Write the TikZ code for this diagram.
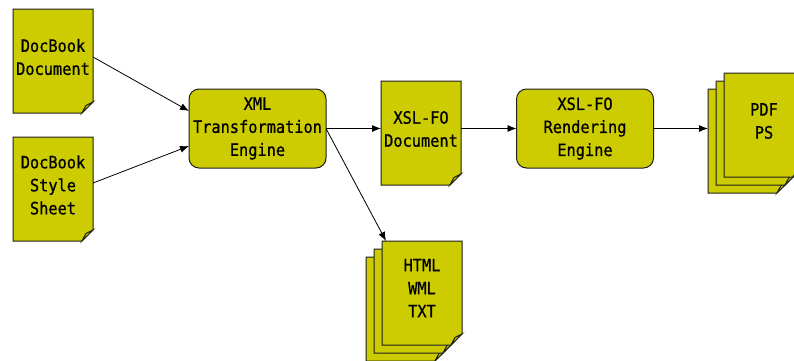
\documentclass[tikz,border=0pt]{standalone}
\usepackage{fontspec}
\newfontfamily\diagfont[FakeStretch=0.9,FakeBold=0.7]{DejaVu Sans Mono}
\usetikzlibrary{arrows.meta,calc}
\definecolor{docfill}{RGB}{204,204,0}
\definecolor{docline}{RGB}{30,30,30}
\tikzset{
  lbl/.style={font=\diagfont\fontsize{17}{23}\selectfont, align=center, inner sep=0pt, text=black},
  pagebox/.style={minimum width=80pt, minimum height=104pt, inner sep=0pt, draw=none, outer sep=0pt},
  pageline/.style={draw=docline, fill=docfill, line width=1pt, line join=miter},
  enginebox/.style={draw=docline, fill=docfill, rounded corners=10pt, line width=1pt,
    minimum width=137pt, minimum height=79pt, inner sep=0pt, outer sep=0pt, lbl},
  conn/.style={draw=black, line width=0.8pt, -{Latex[length=9pt,width=7pt]}},
}
% #1 name, #2 left x, #3 top y (y positive downwards, in px)
\newcommand\docpage[3]{%
  \node[pagebox, anchor=north west] (#1) at (#2pt,-#3pt) {};
  \draw[pageline] (#1.north west) -- (#1.north east) -- ($(#1.south east)+(0,11pt)$)
    -- ($(#1.south east)+(-11pt,0)$) -- (#1.south west) -- cycle;
  \draw[pageline] ($(#1.south east)+(0,11pt)$) -- ($(#1.south east)+(-11pt,0)$)
    -- ($(#1.south east)+(-7pt,7.5pt)$) -- cycle;
}
\begin{document}
\begin{tikzpicture}[x=1pt,y=1pt]
\clip (0,0) rectangle (794,-360);
\fill[white] (0,0) rectangle (794,-360);

% input documents
\docpage{dbdoc}{13}{9}
\node[lbl] (dbdocT) at ($(dbdoc.center)+(0,4pt)$) {DocBook\\Document};
\docpage{dbss}{13}{137}
\node[lbl] (dbssT) at ($(dbss.center)+(0,4pt)$) {DocBook\\Style\\Sheet};

% engines
\node[enginebox] (xml) at (257.5,-128.5) {XML\\Transformation\\Engine};
\node[enginebox] (render) at (585,-128.5) {XSL-FO\\Rendering\\Engine};

% XSL-FO document
\docpage{xslfo}{381}{81}
\node[lbl] (xslfoT) at ($(xslfo.center)+(0,4pt)$) {XSL-FO\\Document};

% PDF / PS stack
\docpage{pdfback}{708}{89}
\docpage{pdfmid}{716}{81}
\docpage{pdffront}{724}{73}
\node[lbl] (pdfT) at ($(pdffront.center)+(0,4pt)$) {PDF\\PS};

% HTML / WML / TXT stack
\docpage{htmlback}{366}{257}
\docpage{htmlmid}{374}{249}
\docpage{htmlfront}{382}{241}
\node[lbl] (htmlT) at ($(htmlfront.center)+(0,5pt)$) {HTML\\WML\\TXT};

% connectors
\draw[conn] ([yshift=4pt]dbdoc.east) -- ([yshift=17.5pt]xml.west);
\draw[conn] ([yshift=6pt]dbss.east) -- ([yshift=-17.5pt]xml.west);
\draw[conn] (xml.east) -- (xslfo.west |- xml.east);
\draw[conn] (xslfo.east |- render.west) -- (render.west);
\draw[conn] (render.east) -- (pdfback.west |- render.east);
\draw[conn] (xml.east) -- ([xshift=4pt]htmlfront.north west);
\end{tikzpicture}
\end{document}
